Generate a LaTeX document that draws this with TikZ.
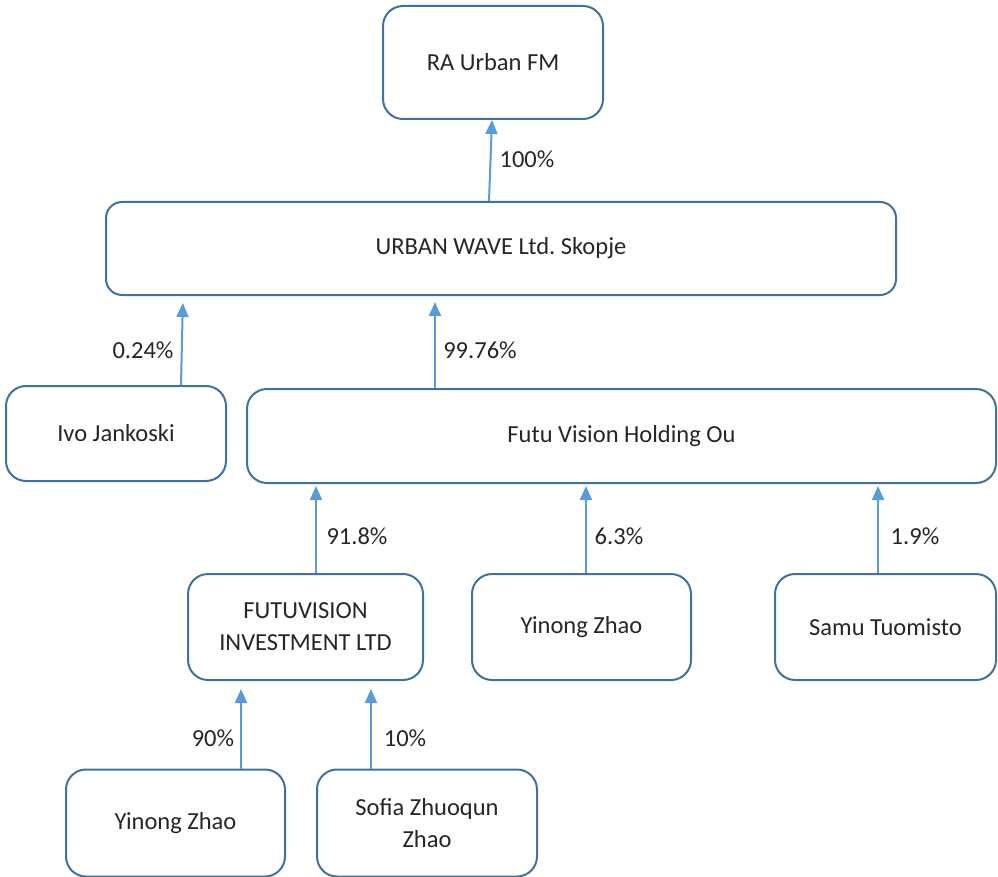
\documentclass[tikz,border=0pt]{standalone}
\usepackage{fontspec}
\setmainfont{Carlito}
\usetikzlibrary{arrows.meta}
\definecolor{boxc}{HTML}{41719C}
\definecolor{arrc}{HTML}{5B9BD5}
\definecolor{txtc}{HTML}{262626}
\frenchspacing
\begin{document}
\begin{tikzpicture}[x=1pt,y=-1pt,
  box/.style={draw=boxc,line width=2pt,rounded corners=20pt,fill=white,inner sep=0pt,
    align=center,text=txtc,font=\fontsize{24.5}{32}\selectfont},
  arr/.style={draw=arrc,line width=2pt,-{Triangle[length=14pt,width=12pt]}},
  lbl/.style={text=txtc,font=\fontsize{24.5}{28}\selectfont,inner sep=0pt}]
\useasboundingbox (0,0) rectangle (998,877);
\node[box,minimum width=220pt,minimum height=113pt] (ra) at (493,62.5) {RA Urban FM};
\node[box,minimum width=790pt,minimum height=93pt,rounded corners=16pt] (urban) at (501,248.5) {URBAN WAVE Ltd. Skopje};
\node[box,minimum width=220pt,minimum height=95pt] (ivo) at (116,433.5) {Ivo Jankoski};
\node[box,minimum width=749pt,minimum height=94pt] (futu) at (621.5,436) {Futu Vision Holding Ou};
\node[box,minimum width=235pt,minimum height=106pt] (fi) at (305.5,627) {FUTUVISION\\INVESTMENT LTD};
\node[box,minimum width=219pt,minimum height=106pt] (yz1) at (581.5,627) {Yinong Zhao};
\node[box,minimum width=221pt,minimum height=106pt] (samu) at (885.5,627) {Samu Tuomisto};
\node[box,minimum width=219pt,minimum height=107pt] (yz2) at (175.5,823) {Yinong Zhao};
\node[box,minimum width=220pt,minimum height=107pt] (sofia) at (427,823) {Sofia Zhuoqun\\Zhao};

\draw[arr] ([xshift=-12pt]urban.north) -- ([xshift=-1pt]ra.south);
\draw[arr,shorten >=7pt] ([xshift=65pt]ivo.north) -- ([xshift=-318pt]urban.south);
\draw[arr,shorten >=6pt] ([xshift=-186.5pt]futu.north) -- ([xshift=-66pt]urban.south);
\draw[arr,shorten >=2pt] ([xshift=10.5pt]fi.north) -- ([xshift=-305.5pt]futu.south);
\draw[arr,shorten >=2pt] ([xshift=4.5pt]yz1.north) -- ([xshift=-35.5pt]futu.south);
\draw[arr,shorten >=2pt] ([xshift=-7.5pt]samu.north) -- ([xshift=256.5pt]futu.south);
\draw[arr,shorten >=8pt] ([xshift=65.5pt]yz2.north) -- ([xshift=-64.5pt]fi.south);
\draw[arr,shorten >=8pt] ([xshift=-56pt]sofia.north) -- ([xshift=65.5pt]fi.south);

\node[lbl] (l1) at (527,159) {100\%};
\node[lbl] (l2) at (143,350) {0.24\%};
\node[lbl] (l3) at (480,350) {99.76\%};
\node[lbl] (l4) at (357,536) {91.8\%};
\node[lbl] (l5) at (619,536) {6.3\%};
\node[lbl] (l6) at (915,536) {1.9\%};
\node[lbl] (l7) at (213,738) {90\%};
\node[lbl] (l8) at (405,738) {10\%};
\end{tikzpicture}
\end{document}
